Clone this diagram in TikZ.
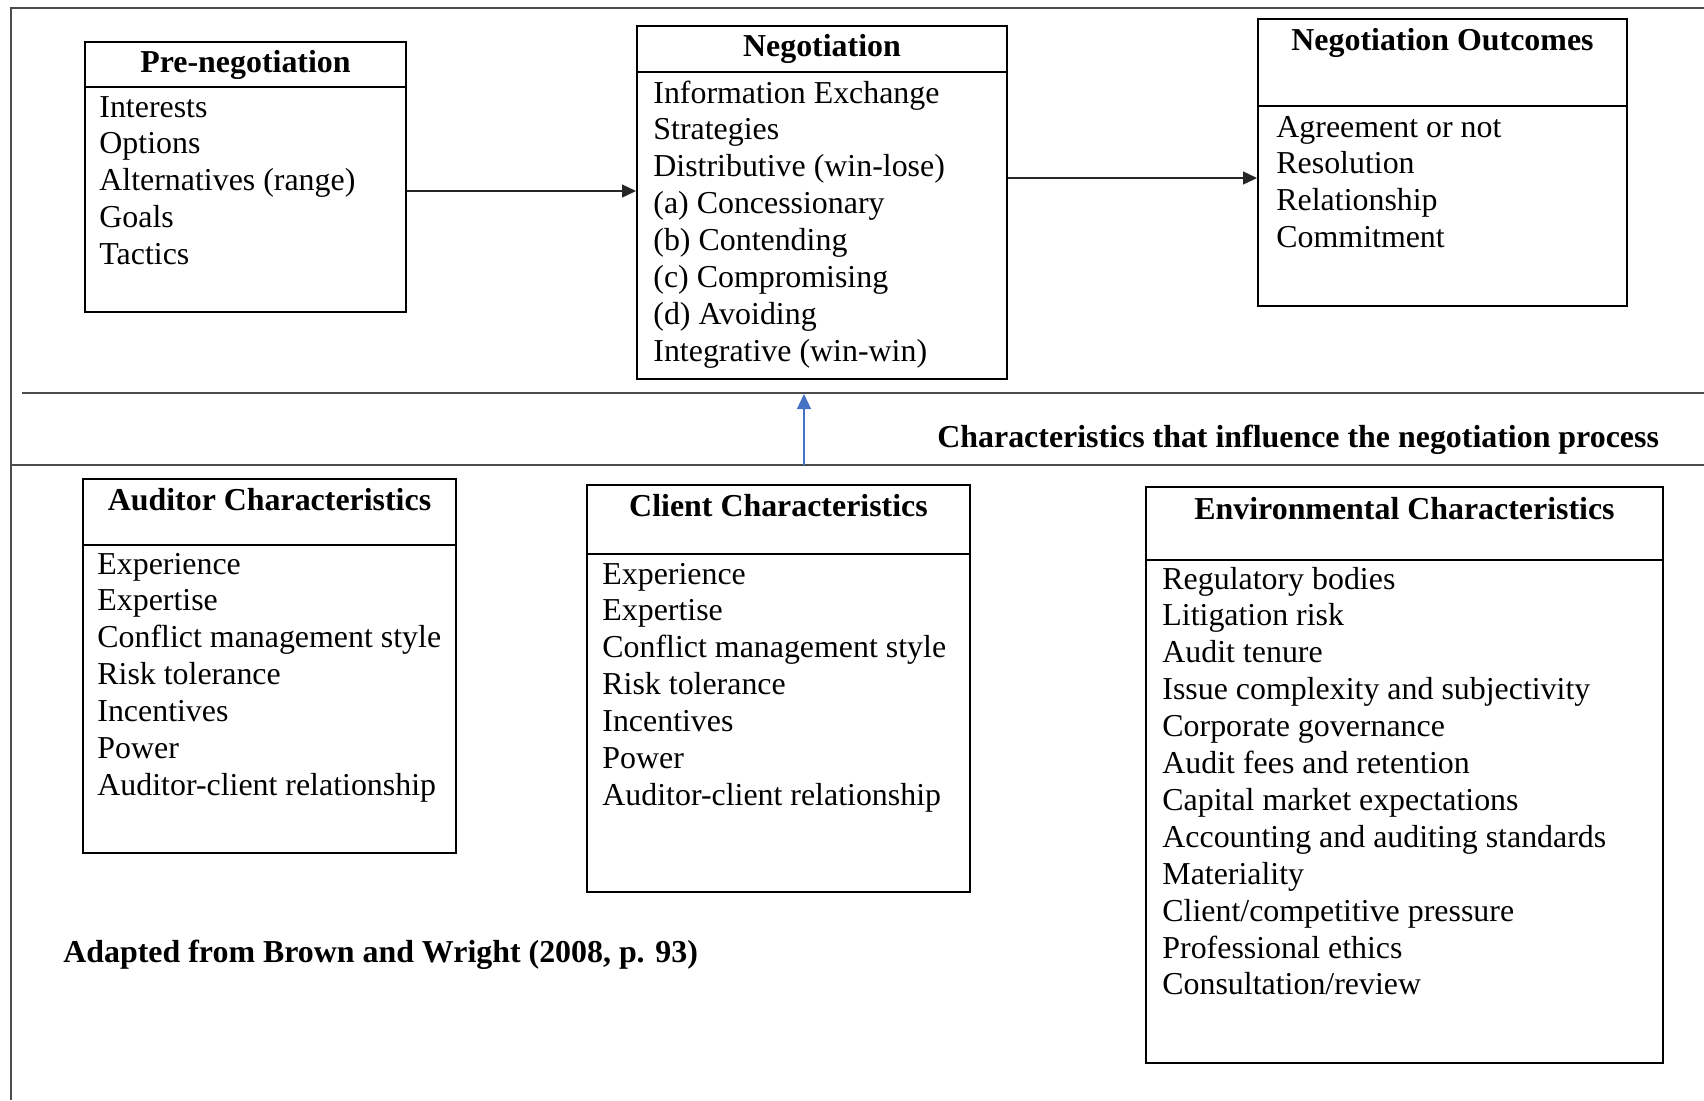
\documentclass[tikz,border=0pt]{standalone}
\usepackage{fontspec}
\setmainfont{Liberation Serif}[Ligatures=NoCommon]
\usetikzlibrary{fit,arrows.meta}
\definecolor{blueArrow}{HTML}{4472C4}
\begin{document}
\begin{tikzpicture}[x=0.5pt,y=-0.5pt,
  box/.style={draw, line width=1pt, inner sep=0pt},
  head/.style={font=\fontsize{15.95pt}{18.45pt}\selectfont\bfseries, anchor=base, inner sep=0pt},
  items/.style={font=\fontsize{15.95pt}{18.45pt}\selectfont, anchor=base west, inner sep=0pt},
  note/.style={font=\fontsize{15.95pt}{18.45pt}\selectfont\bfseries, anchor=base west, inner sep=0pt},
  conn/.style={line width=0.7pt, draw=black!85, -{Triangle[length=7pt,width=6.5pt]}},
  bconn/.style={line width=0.6pt, draw=blueArrow, -{Triangle[length=7.5pt,width=7pt]}, blueArrow},
  rule/.style={line width=0.7pt, draw=black!70},
  divider/.style={line width=1pt}]
\useasboundingbox (0,0) rectangle (1704,1100);

% frame and separators
\coordinate (fTR) at (1704,8);
\coordinate (fTL) at (11,8);
\coordinate (fBL) at (11,1100);
\draw[rule] (fTR) -- (fTL) -- (fBL);
\coordinate (s1a) at (22,393);
\coordinate (s1b) at (1704,393);
\coordinate (s2a) at (11,465);
\coordinate (s2b) at (1704,465);
\draw[rule] (s1a) -- (s1b);
\draw[rule] (s2a) -- (s2b);

% boxes
\node[box, fit={(85,42) (406,312)}] (pre) {};
\node[box, fit={(637,26) (1007,379)}] (neg) {};
\node[box, fit={(1258,19) (1627,306)}] (out) {};
\node[box, fit={(83,479) (456,853)}] (aud) {};
\node[box, fit={(587,485) (970,892)}] (cli) {};
\node[box, fit={(1146,487) (1663,1063)}] (env) {};

% dividers
\draw[divider] (pre.west |- 0,87) -- (pre.east |- 0,87);
\draw[divider] (neg.west |- 0,72) -- (neg.east |- 0,72);
\draw[divider] (out.west |- 0,106) -- (out.east |- 0,106);
\draw[divider] (aud.west |- 0,545) -- (aud.east |- 0,545);
\draw[divider] (cli.west |- 0,554) -- (cli.east |- 0,554);
\draw[divider] (env.west |- 0,560) -- (env.east |- 0,560);

% headers
\node[head] (preH) at (pre.center |- 0,72) {Pre-negotiation};
\node[head] (negH) at (neg.center |- 0,56) {Negotiation};
\node[head] (outH) at (out.center |- 0,50) {Negotiation Outcomes};
\node[head] (audH) at (aud.center |- 0,510) {Auditor Characteristics};
\node[head] (cliH) at (cli.center |- 0,516) {Client Characteristics};
\node[head] (envH) at (env.center |- 0,519) {Environmental Characteristics};

% item lists
\node[items] (preL) at (99,117) {\begin{tabular}[t]{@{}l@{}}Interests\\Options\\Alternatives (range)\\Goals\\Tactics\end{tabular}};
\node[items] (negL) at (653,103) {\begin{tabular}[t]{@{}l@{}}Information Exchange\\Strategies\\Distributive (win-lose)\\(a) Concessionary\\(b) Contending\\(c) Compromising\\(d) Avoiding\\Integrative (win-win)\end{tabular}};
\node[items] (outL) at (1276,137) {\begin{tabular}[t]{@{}l@{}}Agreement or not\\Resolution\\Relationship\\Commitment\end{tabular}};
\node[items] (audL) at (97,574) {\begin{tabular}[t]{@{}l@{}}Experience\\Expertise\\Conflict management style\\Risk tolerance\\Incentives\\Power\\Auditor-client relationship\end{tabular}};
\node[items] (cliL) at (602,584) {\begin{tabular}[t]{@{}l@{}}Experience\\Expertise\\Conflict management style\\Risk tolerance\\Incentives\\Power\\Auditor-client relationship\end{tabular}};
\node[items] (envL) at (1162,589) {\begin{tabular}[t]{@{}l@{}}Regulatory bodies\\Litigation risk\\Audit tenure\\Issue complexity and subjectivity\\Corporate governance\\Audit fees and retention\\Capital market expectations\\Accounting and auditing standards\\Materiality\\Client/competitive pressure\\Professional ethics\\Consultation/review\end{tabular}};

% notes
\node[note] (charT) at (937,447) {Characteristics that influence the negotiation process};
\node[note] (srcT) at (63,962) {Adapted from Brown and Wright (2008, p. 93)};

% connectors
\draw[conn] (pre.east |- 0,191) -- (neg.west |- 0,191);
\draw[conn] (neg.east |- 0,178) -- (out.west |- 0,178);
\coordinate (bS) at (804,465);
\coordinate (bE) at (804,394);
\draw[bconn] (bS) -- (bE);
\end{tikzpicture}
\end{document}
